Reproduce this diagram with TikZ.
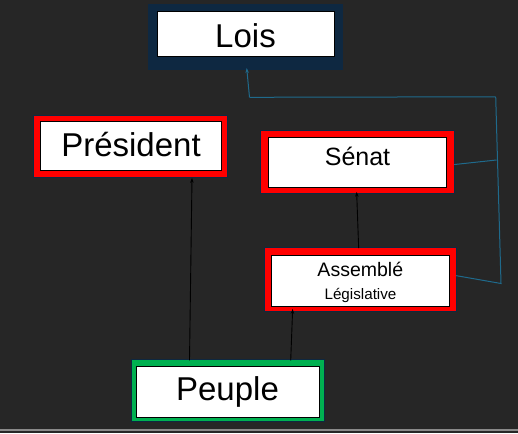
\documentclass[tikz,border=0pt]{standalone}
\usepackage{fontspec}
\setmainfont{Liberation Sans}
\usetikzlibrary{arrows.meta}
\definecolor{bgc}{HTML}{262626}
\definecolor{navyc}{HTML}{0E2841}
\definecolor{redc}{HTML}{FF0000}
\definecolor{greenc}{HTML}{00B050}
\definecolor{bluec}{HTML}{1F6A8C}
\definecolor{grayc}{HTML}{8A8A8A}
\tikzset{
  outerbox/.style={draw=navyc, line width=0.8pt, inner sep=0pt, outer sep=0pt},
  innerbox/.style={fill=white, draw=black, line width=1pt},
  lbl/.style={anchor=base, inner sep=0pt, text=black},
  blk/.style={draw=black, line width=0.9pt, -{Stealth[length=5pt,width=3.5pt]}},
  blu/.style={draw=bluec, line width=1pt},
}
\begin{document}
\begin{tikzpicture}[x=1pt,y=-1pt]
\useasboundingbox (0,0) rectangle (518,433);
\fill[bgc] (0,0) rectangle (518,433);
\draw[grayc, line width=1.5pt] (0,430) -- (518,430);

% Lois
\path[outerbox, fill=navyc] (148,4) rectangle (342,69);
\node[outerbox, minimum width=194pt, minimum height=65pt] (lois) at (245,36.5) {};
\draw[innerbox] (157,12) rectangle (334,57);
\node[lbl, font=\fontsize{33}{33}\selectfont] (loist) at (245.5,48) {Lois};

% Président
\path[outerbox, fill=redc] (33.5,115) rectangle (227.5,177.7);
\node[minimum width=194pt, minimum height=62.7pt, inner sep=0pt] (pres) at (130.5,146.3) {};
\draw[innerbox] (40.7,121.7) rectangle (221.3,170);
\node[lbl, font=\fontsize{33}{33}\selectfont] (prest) at (131,156.7) {Président};

% Sénat
\path[outerbox, fill=redc] (260.7,130) rectangle (454,193.3);
\node[minimum width=193.3pt, minimum height=63.3pt, inner sep=0pt] (senat) at (357.35,161.65) {};
\draw[innerbox] (268.3,137.3) rectangle (446.7,187.3);
\node[lbl, font=\fontsize{25}{25}\selectfont] (senatt) at (357.5,165) {Sénat};

% Assemblé Législative
\path[outerbox, fill=redc] (264.3,247.3) rectangle (456,311);
\node[minimum width=191.7pt, minimum height=63.7pt, inner sep=0pt] (assem) at (360.15,279.15) {};
\draw[innerbox] (271,255) rectangle (449.7,306.7);
\node[lbl, font=\fontsize{19.5}{19.5}\selectfont] (assemt) at (360.3,276.7) {Assemblé};
\node[lbl, font=\fontsize{15.2}{15.2}\selectfont] (legt) at (360.5,299) {Législative};

% Peuple
\path[outerbox, fill=greenc] (131,359) rectangle (324,421.7);
\node[minimum width=193pt, minimum height=62.7pt, inner sep=0pt] (peuple) at (227.5,390.35) {};
\draw[innerbox] (136.5,366) rectangle (319,417.7);
\node[lbl, font=\fontsize{33}{33}\selectfont] (peuplet) at (227.5,400) {Peuple};

% black connectors
\coordinate (p1) at ([xshift=-38pt,yshift=-1.5pt]peuple.north);
\coordinate (pr1) at ([xshift=61.5pt]pres.south);
\draw[blk] (p1) -- (pr1);
\coordinate (p2) at ([xshift=63.2pt,yshift=-1.7pt]peuple.north);
\coordinate (a1) at ([xshift=-67.5pt,yshift=2.3pt]assem.south);
\draw[blk] (p2) -- (a1);
\coordinate (a2) at ([xshift=-1.5pt,yshift=-1pt]assem.north);
\coordinate (s1) at ([xshift=-0.7pt,yshift=1.7pt]senat.south);
\draw[blk] (a2) -- (s1);

% blue connectors
\coordinate (j1) at (496.5,160);
\coordinate (j2) at (501,283.5);
\coordinate (j3) at (495.7,96.8);
\coordinate (j4) at (249.5,97.3);
\coordinate (l1) at ([xshift=1.7pt,yshift=1pt]lois.south);
\draw[blu] ([yshift=-2.9pt]senat.east) -- (j1);
\draw[blu] ([yshift=3.5pt]assem.east) -- (j2) -- (j3);
\draw[blu] (j3) -- (j4);
\draw[blu, -{Stealth[length=5pt,width=3.5pt]}] (j4) -- (l1);
\end{tikzpicture}
\end{document}
